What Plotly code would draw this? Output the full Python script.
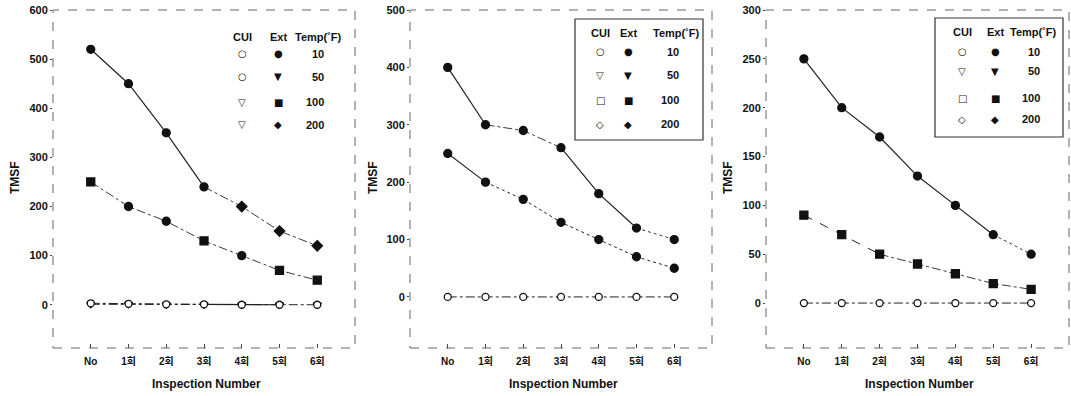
import plotly.graph_objects as go

# ---------------- data ----------------
inspections = ["No", "1회", "2회", "3회", "4회", "5회", "6회"]
temps = ["10", "50", "100", "200"]

p1_ext_a = [520, 450, 350, 240, 200, 150, 120]
p1_ext_b = [250, 200, 170, 130, 100, 70, 50]
p1_cui_a = [3, 2, 1, 1, 0, 0, 0]
p1_cui_b = [1, 1, 0, 0, 0, 0, 0]

p2_ext_a = [400, 300, 290, 260, 180, 120, 100]
p2_ext_b = [250, 200, 170, 130, 100, 70, 50]
p2_cui = [0, 0, 0, 0, 0, 0, 0]

p3_ext_a = [250, 200, 170, 130, 100, 70, 50]
p3_ext_b = [90, 70, 50, 40, 30, 20, 14]
p3_cui = [0, 0, 0, 0, 0, 0, 0]

y_ranges = [[-88, 600], [-89, 500], [-46, 300]]
y_ticks = [[0, 100, 200, 300, 400, 500, 600],
           [0, 100, 200, 300, 400, 500],
           [0, 50, 100, 150, 200, 250, 300]]

# ---------------- layout constants ----------------
W, H = 1071, 396
FONT = "Liberation Sans, Arial, Noto Sans CJK KR, sans-serif"
domains_px = [(53, 355), (410, 712), (766, 1069)]
y_top_px, y_bot_px = 10, 348


def px(x):
    return x / W


def py(y):
    return 1 - y / H


fig = go.Figure()


def add_series(panel, values, segments, symbols, filled=True, size=8):
    xa = "x" if panel == 1 else f"x{panel}"
    ya = "y" if panel == 1 else f"y{panel}"
    for s, e, dash, width in segments:
        fig.add_trace(go.Scatter(
            x=inspections[s:e + 1], y=values[s:e + 1], mode="lines",
            line=dict(color="#222", width=width, dash=dash),
            xaxis=xa, yaxis=ya, showlegend=False, hoverinfo="skip"))
    fig.add_trace(go.Scatter(
        x=inspections, y=values, mode="markers",
        marker=dict(symbol=symbols, size=size,
                    color="#111" if filled else "white",
                    line=dict(color="#111", width=1.3)),
        xaxis=xa, yaxis=ya, showlegend=False))


# Panel 1
add_series(1, p1_cui_b, [(0, 6, "dashdot", 1)], "triangle-down", filled=False, size=7)
add_series(1, p1_cui_a, [(0, 3, "dashdot", 1), (3, 5, "solid", 1.2)], "circle", filled=False, size=7)
add_series(1, p1_ext_b, [(0, 6, "dashdot", 0.9)],
           ["square", "circle", "circle", "square", "circle", "square", "square"])
add_series(1, p1_ext_a, [(0, 3, "solid", 1.2), (3, 6, "dashdot", 0.9)],
           ["circle", "circle", "circle", "circle", "diamond", "diamond", "diamond"])

# Panel 2
add_series(2, p2_cui, [(0, 6, "dashdot", 1)], "circle", filled=False, size=7)
add_series(2, p2_ext_b, [(0, 1, "solid", 1.1), (1, 6, "dot", 1)], "circle")
add_series(2, p2_ext_a, [(0, 1, "solid", 1.2), (1, 3, "dashdot", 0.9),
                         (3, 5, "solid", 1.2), (5, 6, "dot", 0.9)], "circle")

# Panel 3
add_series(3, p3_cui, [(0, 6, "dashdot", 1)], "circle", filled=False, size=7)
add_series(3, p3_ext_b, [(0, 2, "dash", 1), (2, 6, "dashdot", 0.9)], "square")
add_series(3, p3_ext_a, [(0, 5, "solid", 1.2), (5, 6, "dot", 0.9)], "circle")

layout = dict(
    width=W, height=H, margin=dict(l=0, r=0, t=0, b=0),
    paper_bgcolor="white", plot_bgcolor="white",
    font=dict(family=FONT, color="#111", size=10),
    showlegend=False,
)
ydom = [py(y_bot_px), py(y_top_px)]
for i, (x0, x1) in enumerate(domains_px):
    k = "" if i == 0 else str(i + 1)
    layout["xaxis" + k] = dict(
        domain=[px(x0), px(x1)], range=[-1, 7], type="category",
        categoryorder="array", categoryarray=inspections,
        tickvals=inspections, ticks="inside", ticklen=4, tickcolor="#444",
        ticklabelstandoff=6,
        showgrid=False, zeroline=False, showline=False,
        tickfont=dict(family=FONT, size=10, color="#111", weight="bold"),
        anchor="y" + k, automargin=False, fixedrange=True)
    layout["yaxis" + k] = dict(
        domain=ydom, range=y_ranges[i], tickvals=y_ticks[i],
        ticks="outside", ticklen=2, tickcolor="#444",
        showgrid=False, zeroline=False, showline=False,
        tickfont=dict(family=FONT, size=11, color="#111", weight="bold"),
        anchor="x" + k, automargin=False, fixedrange=True)
fig.update_layout(**layout)

# frames (scanned dashed look)
for x0, x1 in domains_px:
    fig.add_shape(type="rect", xref="paper", yref="paper",
                  x0=px(x0), x1=px(x1), y0=py(y_bot_px), y1=py(y_top_px),
                  line=dict(color="#666", width=1, dash="dash"), layer="below")

# axis titles
title_font = dict(family=FONT, size=12, color="#111", weight="bold")
for x0, x1 in domains_px:
    fig.add_annotation(text="Inspection Number", xref="paper", yref="paper",
                       x=px((x0 + x1) / 2 + 2), y=py(384), showarrow=False,
                       font=title_font, xanchor="center", yanchor="middle")
for xp in [15, 373, 728]:
    fig.add_annotation(text="TMSF", xref="paper", yref="paper",
                       x=px(xp), y=py(178), showarrow=False, textangle=-90,
                       font=title_font, xanchor="center", yanchor="middle")

# legends (text tables)
leg_font = dict(family=FONT, size=11, color="#111", weight="bold")
sym_font = dict(family="DejaVu Sans", size=10, color="#111")
legends = [
    dict(cols=(242, 278, 318), num_right=326, head=37, rows=(54, 77, 102, 125),
         cui=["○", "○", "▽", "▽"], box=None),
    dict(cols=(600, 628, 676), num_right=681, head=33, rows=(52, 75, 100, 124),
         cui=["○", "▽", "□", "◇"], box=(575, 703, 19, 140)),
    dict(cols=(962, 995, 1033), num_right=1042, head=32, rows=(52, 71, 98, 119),
         cui=["○", "▽", "□", "◇"], box=(935, 1063, 18, 137)),
]
ext_syms = ["●", "▼", "■", "◆"]
for lg in legends:
    c1, c2, c3 = lg["cols"]
    if lg["box"]:
        bx0, bx1, by0, by1 = lg["box"]
        fig.add_shape(type="rect", xref="paper", yref="paper",
                      x0=px(bx0), x1=px(bx1), y0=py(by1), y1=py(by0),
                      line=dict(color="#333", width=1.2), fillcolor="white")
    for txt, c in [("CUI", c1), ("Ext", c2), ("Temp(˚F)", c3)]:
        fig.add_annotation(text=txt, xref="paper", yref="paper", x=px(c),
                           y=py(lg["head"]), showarrow=False, font=leg_font,
                           xanchor="center", yanchor="middle")
    for j, r in enumerate(lg["rows"]):
        fig.add_annotation(text=lg["cui"][j], xref="paper", yref="paper",
                           x=px(c1), y=py(r), showarrow=False, font=sym_font,
                           xanchor="center", yanchor="middle")
        fig.add_annotation(text=ext_syms[j], xref="paper", yref="paper",
                           x=px(c2), y=py(r), showarrow=False, font=sym_font,
                           xanchor="center", yanchor="middle")
        fig.add_annotation(text=temps[j], xref="paper", yref="paper",
                           x=px(lg["num_right"]), y=py(r), showarrow=False,
                           font=leg_font, xanchor="right", yanchor="middle")

fig.write_html("out.html", config={"displayModeBar": False},
               post_script="document.body.style.margin='0';document.body.style.overflow='hidden';")
